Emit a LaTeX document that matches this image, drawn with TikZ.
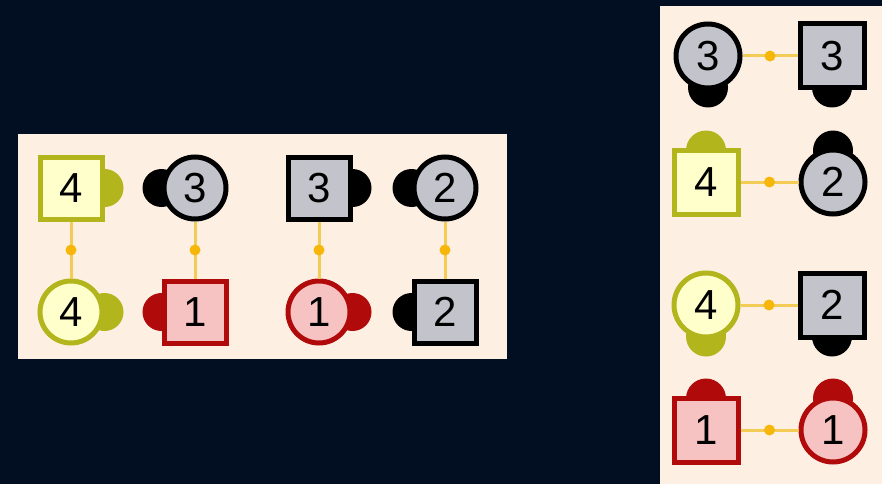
\documentclass[tikz,border=0pt]{standalone}
\usepackage{fontspec}
\setmainfont{Liberation Sans}
\usetikzlibrary{calc}
\pgfdeclarelayer{back}
\pgfdeclarelayer{bg}
\pgfsetlayers{back,bg,main}
\definecolor{nightbg}{HTML}{020F22}
\definecolor{panelbg}{HTML}{FDF0E3}
\definecolor{olive}{HTML}{B3B51C}
\definecolor{olivefill}{HTML}{FFFFCC}
\definecolor{redline}{HTML}{B00A0A}
\definecolor{redfill}{HTML}{F7C2C2}
\definecolor{greyfill}{HTML}{C2C3CB}
\definecolor{connline}{HTML}{F2CC55}
\definecolor{conndot}{HTML}{F6B70A}
\tikzset{
  base/.style={line width=5pt, inner sep=0pt, text=black,
    font=\fontsize{42}{42}\selectfont},
  sqnode/.style={base, rectangle, minimum size=62pt},
  cinode/.style={base, circle, minimum size=62pt},
  bignode/.style={minimum size=64pt},
  olivesty/.style={draw=olive, fill=olivefill},
  redsty/.style={draw=redline, fill=redfill},
  greysty/.style={draw=black, fill=greyfill},
  conn/.style={draw=connline, line width=3pt},
  conndotsty/.style={circle, fill=conndot, inner sep=0pt, minimum size=11pt},
}
\newcommand{\bumpat}[3][19pt]{\begin{pgfonlayer}{bg}\fill[#2] (#3) circle[radius=#1];\end{pgfonlayer}}
\begin{document}
\begin{tikzpicture}[x=1pt,y=-1pt]
\begin{pgfonlayer}{back}
\fill[nightbg] (0,0) rectangle (882,484);
\fill[panelbg] (18,134) rectangle (507,359);
\fill[panelbg] (660,6) rectangle (882,484);
\end{pgfonlayer}
\useasboundingbox (0,0) rectangle (882,484);

% left panel
\node[sqnode, olivesty] (l4s) at (71,188) {4};
\node[cinode, olivesty] (l4c) at (71,312) {4};
\node[cinode, greysty] (l3c) at (195,188) {3};
\node[sqnode, redsty] (l1s) at (195,312) {1};
\node[sqnode, greysty] (l3s) at (319,188) {3};
\node[cinode, redsty] (l1c) at (319,312) {1};
\node[cinode, greysty] (l2c) at (445,188) {2};
\node[sqnode, greysty] (l2s) at (445,312) {2};

\bumpat{olive}{l4s.east}
\bumpat{olive}{l4c.east}
\bumpat{black}{l3c.west}
\bumpat{redline}{l1s.west}
\bumpat{black}{l3s.east}
\bumpat{redline}{l1c.east}
\bumpat{black}{l2c.west}
\bumpat{black}{l2s.west}

\draw[conn] (l4s) -- node[conndotsty]{} (l4c);
\draw[conn] (l3c) -- node[conndotsty]{} (l1s);
\draw[conn] (l3s) -- node[conndotsty]{} (l1c);
\draw[conn] (l2c) -- node[conndotsty]{} (l2s);

% right panel
\node[cinode, bignode, greysty] (r3c) at (708,56) {3};
\node[sqnode, bignode, greysty] (r3s) at (832,56) {3};
\node[sqnode, bignode, olivesty] (r4s) at (706,182) {4};
\node[cinode, bignode, greysty] (r2c) at (833,182) {2};
\node[cinode, bignode, olivesty] (r4c) at (706,305) {4};
\node[sqnode, bignode, greysty] (r2s) at (832,305) {2};
\node[sqnode, bignode, redsty] (r1s) at (706,430) {1};
\node[cinode, bignode, redsty] (r1c) at (833,430) {1};

\bumpat[20pt]{black}{$(r3c.south)+(0,-3)$}
\bumpat[20pt]{black}{$(r3s.south)+(0,-3)$}
\bumpat[20pt]{olive}{$(r4s.north)+(0,3)$}
\bumpat[20pt]{black}{$(r2c.north)+(0,3)$}
\bumpat[20pt]{olive}{$(r4c.south)+(0,-3)$}
\bumpat[20pt]{black}{$(r2s.south)+(0,-3)$}
\bumpat[20pt]{redline}{$(r1s.north)+(0,3)$}
\bumpat[20pt]{redline}{$(r1c.north)+(0,3)$}

\draw[conn] (r3c) -- node[conndotsty]{} (r3s);
\draw[conn] (r4s) -- node[conndotsty]{} (r2c);
\draw[conn] (r4c) -- node[conndotsty]{} (r2s);
\draw[conn] (r1s) -- node[conndotsty]{} (r1c);
\end{tikzpicture}
\end{document}
